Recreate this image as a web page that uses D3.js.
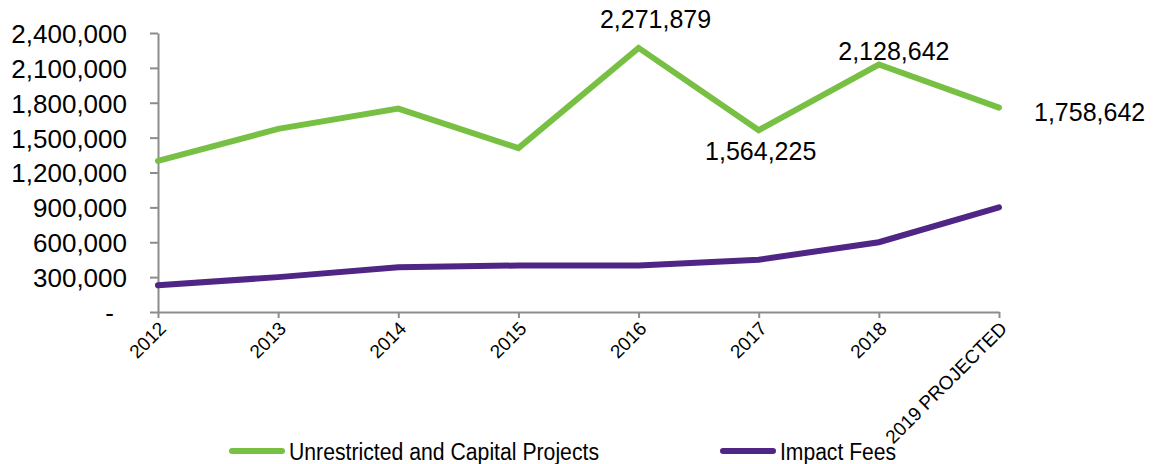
<!DOCTYPE html>
<html>
<head>
<meta charset="utf-8">
<script src="https://cdn.jsdelivr.net/npm/d3@7"></script>
<style>
  html, body { margin: 0; padding: 0; background: #fff; }
  svg { display: block; font-family: "Liberation Sans", Arial, sans-serif; }
</style>
</head>
<body>
<svg id="chart" width="1157" height="464"></svg>
<script>
// Fund balances by year
const years = ["2012", "2013", "2014", "2015", "2016", "2017", "2018", "2019 PROJECTED"];
const unrestricted = [1300000, 1575000, 1750000, 1410000, 2271879, 1564225, 2128642, 1758642];
const impactFees = [230000, 300000, 385000, 400000, 400000, 450000, 600000, 900000];
const yTicks = [0, 300000, 600000, 900000, 1200000, 1500000, 1800000, 2100000, 2400000];
const seriesNames = ["Unrestricted and Capital Projects", "Impact Fees"];
const labelledYears = ["2016", "2017", "2018", "2019 PROJECTED"];

const GREEN = "#78c043";
const PURPLE = "#4f2685";
const AXIS = "#8c8c8c";

const svg = d3.select("#chart");

const x = d3.scalePoint().domain(years).range([158, 999]);
const y = d3.scaleLinear().domain([0, 2400000]).range([312, 33]);

const fmt = d3.format(",");

// Y axis
const yAxis = svg.append("g")
  .attr("transform", "translate(158,0)")
  .call(d3.axisLeft(y).tickValues(yTicks).tickSize(8).tickSizeOuter(0).tickPadding(23)
    .tickFormat(d => d === 0 ? "-" : fmt(d)));
yAxis.select(".domain").attr("stroke", AXIS).attr("stroke-width", 2);
yAxis.selectAll(".tick line").attr("stroke", AXIS).attr("stroke-width", 2);
yAxis.selectAll(".tick text")
  .attr("fill", "#000")
  .style("font-size", "26px")
  .style("font-family", "'Liberation Sans', Arial, sans-serif")
  .attr("dy", "0.36em");
yAxis.selectAll(".tick").filter(d => d === 0).select("text").attr("x", -44);

// X axis
const xAxis = svg.append("g")
  .attr("transform", "translate(0,312)")
  .call(d3.axisBottom(x).tickSize(6).tickSizeOuter(0));
xAxis.select(".domain").attr("stroke", AXIS).attr("stroke-width", 2);
xAxis.selectAll(".tick line").attr("stroke", AXIS).attr("stroke-width", 2);
xAxis.selectAll(".tick text")
  .attr("fill", "#000")
  .style("font-size", "19px")
  .style("font-family", "'Liberation Sans', Arial, sans-serif")
  .attr("text-anchor", "end")
  .attr("x", 0).attr("y", 0).attr("dy", "0.35em")
  .attr("transform", "translate(4,13) rotate(-45)");

// Lines
const line = d3.line().x((d, i) => x(years[i])).y(d => y(d));

svg.append("path")
  .datum(impactFees)
  .attr("d", line)
  .attr("fill", "none")
  .attr("stroke", PURPLE)
  .attr("stroke-width", 6)
  .attr("stroke-linejoin", "miter")
  .attr("stroke-linecap", "round");

svg.append("path")
  .datum(unrestricted)
  .attr("d", line)
  .attr("fill", "none")
  .attr("stroke", GREEN)
  .attr("stroke-width", 6)
  .attr("stroke-linejoin", "miter")
  .attr("stroke-linecap", "round");

// Value labels on the green series
const labelPlacement = {
  "2016": { dx: 17, dy: -20, anchor: "middle" },
  "2017": { dx: 2, dy: 30, anchor: "middle" },
  "2018": { dx: 15, dy: -5, anchor: "middle" },
  "2019 PROJECTED": { dx: 35, dy: 13, anchor: "start" }
};

svg.append("g").selectAll("text")
  .data(labelledYears)
  .join("text")
  .attr("x", d => x(d) + labelPlacement[d].dx)
  .attr("y", d => y(unrestricted[years.indexOf(d)]) + labelPlacement[d].dy)
  .attr("text-anchor", d => labelPlacement[d].anchor)
  .style("font-size", "25px")
  .attr("fill", "#000")
  .text(d => fmt(unrestricted[years.indexOf(d)]));

// Legend
const legend = [
  { name: seriesNames[0], color: GREEN, x0: 229, len: 310 },
  { name: seriesNames[1], color: PURPLE, x0: 720, len: 116 }
];
const lg = svg.append("g");
legend.forEach(l => {
  lg.append("line")
    .attr("x1", l.x0 + 3).attr("x2", l.x0 + 53)
    .attr("y1", 451).attr("y2", 451)
    .attr("stroke", l.color).attr("stroke-width", 6).attr("stroke-linecap", "round");
  lg.append("text")
    .attr("x", l.x0 + 60).attr("y", 460)
    .style("font-size", "23px")
    .attr("textLength", l.len)
    .attr("lengthAdjust", "spacingAndGlyphs")
    .attr("fill", "#000")
    .text(l.name);
});
</script>
</body>
</html>
